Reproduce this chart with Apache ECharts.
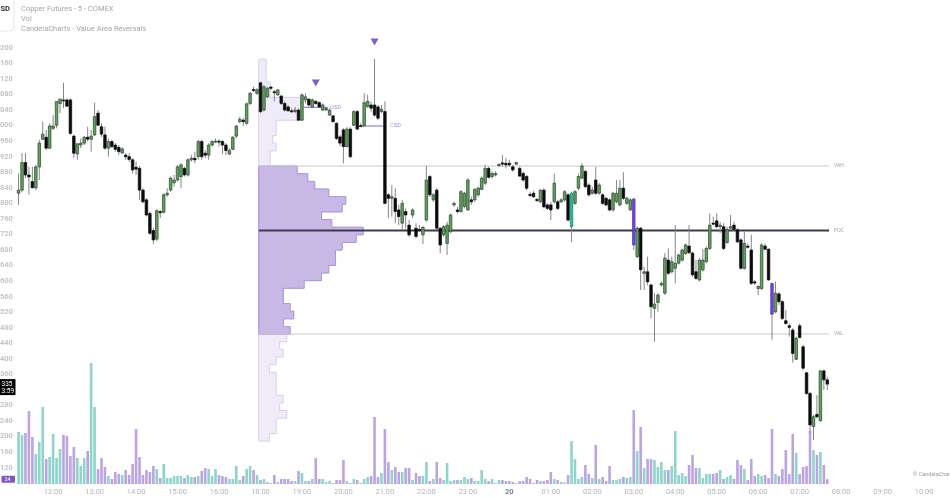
<!DOCTYPE html>
<html><head><meta charset="utf-8">
<script src="https://cdn.jsdelivr.net/npm/echarts@6/dist/echarts.min.js"></script>
<style>html,body{margin:0;padding:0;background:#fff}#c{width:950px;height:500px}</style>
</head><body><div id="c"></div>
<script>
// ---------- DATA ----------
const headerLines = ['Copper Futures - 5 - COMEX', 'Vol', 'CandelaCharts - Value Area Reversals'];
const currencyBadge = 'SD';
const countdown = '3:59';
const copyrightText = '\u00A9 CandelaCharts';
const firstBar = 4;           // category index of first candle (11:10)
const sessionStartBar = 74;   // 18:00
const lastBar = 238;          // 07:40
// [open, close, low, high]
const candleOHLC = [
[4.826,4.834,4.796,4.877],[4.834,4.905,4.829,4.929],[4.905,4.873,4.865,4.929],[4.873,4.868,4.822,4.894],[4.856,4.840,4.839,4.894],
[4.840,4.894,4.834,4.899],[4.894,4.955,4.860,4.963],[4.965,4.978,4.963,5.010],[4.970,4.942,4.937,4.989],[4.942,4.999,4.940,5.006],
[4.993,4.999,4.989,5.027],[5.001,5.062,4.993,5.062],[5.057,5.068,5.032,5.070],[5.066,5.064,5.045,5.110],[5.066,5.050,5.048,5.070],
[5.066,4.980,4.976,5.070],[4.973,4.929,4.916,4.976],[4.927,4.953,4.912,4.955],[4.950,4.955,4.942,4.967],[4.955,4.970,4.950,4.973],
[4.970,4.965,4.959,4.997],[4.965,4.973,4.933,4.989],[4.976,5.023,4.973,5.059],[5.032,5.001,4.999,5.040],[4.997,4.978,4.971,5.006],
[4.976,4.942,4.937,4.997],[4.942,4.959,4.920,4.967],[4.959,4.946,4.942,4.963],[4.950,4.939,4.933,4.955],[4.944,4.933,4.924,4.950],
[4.930,4.940,4.927,4.944],[4.924,4.920,4.912,4.929],[4.920,4.913,4.907,4.929],[4.912,4.886,4.877,4.916],[4.893,4.888,4.873,4.907],
[4.890,4.834,4.809,4.896],[4.834,4.804,4.800,4.839],[4.809,4.770,4.766,4.813],[4.774,4.723,4.719,4.779],[4.730,4.706,4.695,4.736],
[4.708,4.781,4.703,4.785],[4.779,4.776,4.762,4.783],[4.777,4.822,4.774,4.826],[4.822,4.826,4.817,4.839],[4.834,4.865,4.830,4.869],
[4.853,4.860,4.843,4.873],[4.860,4.894,4.856,4.899],[4.869,4.899,4.839,4.903],[4.890,4.873,4.869,4.894],[4.873,4.912,4.869,4.916],
[4.912,4.916,4.907,4.924],[4.916,4.912,4.903,4.933],[4.920,4.959,4.912,4.963],[4.959,4.920,4.912,4.963],[4.929,4.924,4.916,4.937],
[4.924,4.950,4.912,4.955],[4.950,4.959,4.946,4.963],[4.958,4.960,4.955,4.967],[4.960,4.958,4.946,4.965],[4.959,4.950,4.927,4.963],
[4.950,4.936,4.924,4.955],[4.927,4.936,4.924,4.942],[4.939,4.970,4.937,4.973],[4.973,4.999,4.967,5.001],[5.010,5.016,5.006,5.023],
[5.014,5.010,4.999,5.020],[5.006,5.056,5.001,5.059],[5.057,5.083,5.053,5.087],[5.093,5.090,5.087,5.100],[5.083,5.092,5.079,5.096],
[5.110,5.036,5.032,5.113],[5.040,5.100,5.036,5.104],[5.074,5.096,5.070,5.100],[5.099,5.096,5.092,5.102],[5.087,5.085,5.062,5.092],
[5.079,5.092,5.077,5.093],[5.076,5.057,5.053,5.079],[5.057,5.040,5.036,5.062],[5.048,5.038,5.036,5.053],[5.038,5.036,5.033,5.044],
[5.036,5.040,5.032,5.048],[5.040,5.014,5.012,5.044],[5.014,5.079,5.013,5.083],[5.066,5.074,5.057,5.083],[5.068,5.053,5.048,5.070],
[5.048,5.066,5.045,5.070],[5.062,5.057,5.053,5.066],[5.059,5.048,5.045,5.062],[5.040,5.053,5.038,5.057],[5.040,5.044,5.038,5.048],
[5.027,5.040,5.025,5.044],[5.025,5.010,5.008,5.027],[5.006,4.967,4.963,5.008],[4.971,4.955,4.947,4.976],[4.989,4.946,4.903,4.993],
[4.946,4.991,4.944,4.996],[4.991,4.920,4.916,4.996],[5.001,5.036,4.999,5.040],[5.036,4.991,4.989,5.040],[5.000,4.998,4.997,5.006],
[4.999,5.059,4.997,5.083],[5.049,5.062,5.045,5.079],[5.053,5.045,5.036,5.062],[5.053,5.027,5.023,5.171],[5.048,5.019,5.014,5.053],
[5.036,5.042,5.032,5.053],[5.036,4.800,4.798,5.062],[4.822,4.813,4.762,4.826],[4.813,4.817,4.766,4.847],[4.813,4.779,4.749,4.839],
[4.783,4.766,4.744,4.796],[4.749,4.800,4.732,4.809],[4.779,4.770,4.736,4.787],[4.744,4.719,4.714,4.757],[4.770,4.783,4.762,4.787],
[4.736,4.715,4.710,4.749],[4.733,4.730,4.726,4.744],[4.719,4.738,4.695,4.742],[4.757,4.860,4.753,4.896],[4.869,4.822,4.817,4.873],
[4.809,4.822,4.804,4.826],[4.834,4.736,4.732,4.839],[4.736,4.693,4.672,4.739],[4.719,4.740,4.714,4.744],[4.697,4.744,4.667,4.753],
[4.727,4.770,4.723,4.774],[4.796,4.800,4.791,4.804],[4.783,4.779,4.774,4.791],[4.779,4.830,4.776,4.834],[4.792,4.826,4.787,4.830],
[4.783,4.860,4.781,4.865],[4.809,4.804,4.796,4.817],[4.809,4.836,4.804,4.839],[4.822,4.839,4.817,4.843],[4.836,4.865,4.834,4.869],
[4.852,4.890,4.847,4.899],[4.890,4.867,4.864,4.894],[4.869,4.877,4.864,4.882],[4.873,4.877,4.869,4.882],[4.897,4.900,4.894,4.903],
[4.904,4.901,4.894,4.924],[4.903,4.899,4.890,4.916],[4.903,4.899,4.894,4.912],[4.894,4.886,4.881,4.899],[4.901,4.905,4.899,4.907],
[4.890,4.870,4.869,4.894],[4.877,4.860,4.856,4.882],[4.869,4.839,4.834,4.873],[4.823,4.820,4.817,4.830],[4.826,4.817,4.814,4.832],
[4.810,4.807,4.804,4.813],[4.804,4.834,4.800,4.836],[4.834,4.791,4.787,4.839],[4.796,4.787,4.783,4.800],[4.796,4.783,4.757,4.804],
[4.804,4.852,4.800,4.877],[4.804,4.787,4.783,4.809],[4.804,4.809,4.800,4.813],[4.809,4.830,4.804,4.834],[4.822,4.757,4.753,4.826],
[4.740,4.826,4.701,4.830],[4.800,4.830,4.796,4.834],[4.839,4.869,4.834,4.877],[4.865,4.896,4.862,4.903],[4.882,4.843,4.839,4.886],
[4.847,4.822,4.817,4.852],[4.826,4.834,4.822,4.843],[4.860,4.826,4.822,4.894],[4.826,4.847,4.822,4.852],[4.822,4.800,4.796,4.826],
[4.813,4.796,4.792,4.817],[4.809,4.783,4.779,4.813],[4.783,4.826,4.779,4.830],[4.804,4.826,4.800,4.860],[4.796,4.839,4.792,4.860],
[4.839,4.813,4.809,4.880],[4.800,4.813,4.796,4.817],[4.783,4.809,4.781,4.813],[4.811,4.693,4.680,4.814],[4.663,4.736,4.659,4.740],
[4.736,4.629,4.577,4.740],[4.620,4.624,4.577,4.637],[4.624,4.598,4.590,4.663],[4.590,4.534,4.504,4.594],[4.530,4.541,4.444,4.569],
[4.545,4.564,4.521,4.569],[4.590,4.594,4.586,4.599],[4.569,4.659,4.564,4.672],[4.654,4.620,4.616,4.684],[4.624,4.650,4.620,4.663],
[4.633,4.646,4.594,4.744],[4.646,4.667,4.642,4.671],[4.654,4.680,4.650,4.684],[4.671,4.693,4.667,4.697],[4.690,4.673,4.670,4.744],
[4.672,4.616,4.611,4.676],[4.624,4.607,4.603,4.654],[4.603,4.654,4.599,4.659],[4.629,4.654,4.624,4.682],[4.650,4.684,4.646,4.689],
[4.684,4.744,4.680,4.774],[4.749,4.747,4.744,4.766],[4.755,4.740,4.736,4.774],[4.740,4.744,4.724,4.752],[4.740,4.684,4.680,4.749],
[4.699,4.733,4.697,4.740],[4.736,4.740,4.732,4.770],[4.744,4.733,4.730,4.753],[4.732,4.701,4.697,4.736],[4.706,4.633,4.630,4.710],
[4.633,4.697,4.629,4.727],[4.690,4.687,4.684,4.697],[4.680,4.594,4.590,4.719],[4.598,4.595,4.590,4.603],[4.581,4.586,4.564,4.590],
[4.581,4.693,4.577,4.697],[4.690,4.682,4.680,4.697],[4.682,4.603,4.601,4.684],[4.594,4.515,4.449,4.596],[4.521,4.569,4.517,4.599],
[4.567,4.547,4.538,4.572],[4.547,4.504,4.500,4.551],[4.498,4.491,4.487,4.526],[4.485,4.481,4.457,4.491],[4.474,4.414,4.390,4.479],
[4.399,4.453,4.397,4.457],[4.485,4.455,4.453,4.491],[4.431,4.376,4.371,4.436],[4.364,4.311,4.307,4.367],[4.311,4.230,4.209,4.315],
[4.226,4.251,4.191,4.256],[4.257,4.251,4.247,4.307],[4.241,4.369,4.238,4.371],[4.369,4.346,4.320,4.373],[4.346,4.335,4.320,4.354]
];
const volumes = [
260,245,255,365,235,150,210,385,125,135,
250,130,175,245,240,140,185,130,90,130,
165,605,385,75,130,85,40,25,60,50,
45,70,45,100,275,135,45,70,60,90,
75,30,100,30,30,40,40,40,30,45,
35,35,40,65,80,75,40,75,45,40,
35,25,25,90,20,40,75,90,70,45,
20,25,10,5,45,10,25,25,25,15,
15,65,55,15,15,25,130,25,25,10,
15,5,20,20,120,15,5,25,20,5,
25,35,40,335,35,55,275,110,70,85,
60,60,80,80,20,55,40,40,110,15,
25,110,30,20,105,15,20,20,20,35,
25,30,15,15,70,25,15,25,5,20,
20,15,15,10,5,15,15,35,25,5,
20,15,15,20,60,25,20,10,8,45,
215,125,25,35,95,50,30,195,25,35,
15,90,20,20,25,35,30,35,370,165,
285,80,125,125,120,85,110,70,70,90,
265,45,55,40,95,145,80,80,30,50,
50,50,55,70,25,35,45,25,120,95,
75,20,125,40,50,40,45,30,275,50,
40,75,170,50,250,155,50,85,90,265,
170,145,160,95,24
];
// value-area reversal signals
const bullSignalBars = [164];
const bearSignalBars = [182, 222];
const triangleBars = [90, 107];
// CISD levels
const cisdStart = [87, 104];
const cisdEnd = [93, 109];
const cisdPrice = [5.047, 4.999];
// session value area levels
const levelNames = ['VAH', 'POC', 'VAL'];
const levelPrices = [4.896, 4.730, 4.464];
// session volume profile (rows top -> bottom)
const profileTop = 5.171;
const profileRow = 0.01965;
const profileVolumes = [74,74,74,114,114,440,440,440,174,174,140,174,114,114,384,490,560,700,870,834,
627,730,1044,974,834,767,767,700,627,454,247,247,314,350,247,314,280,210,244,174,
107,174,174,174,244,210,280,174,174,107];
const valueAreaFirstRow = 14, valueAreaLastRow = 35;

// ---------- CATEGORIES (5-minute slots, 17:00 hour closed) ----------
const categories = [];
(function(){
  const pad = n => (n < 10 ? '0' : '') + n;
  let t = 10 * 60 + 50;
  while (categories.length < 274) {
    const hh = Math.floor(t / 60) % 24, mm = t % 60;
    if (hh !== 17) categories.push(pad(hh) + ':' + pad(mm));
    t += 5;
  }
})();

// ---------- BUILD ----------
const C_UP = '#5fa35f', C_UP_B = '#2c402c', C_DN = '#0c0c0c';
const C_BULL = '#22b89b', C_BEAR = '#7043de';
const V_UP = '#90d4c9', V_DN = '#baa4e3';
const FONT = 'Roboto, "Noto Sans", sans-serif';

const candleData = candleOHLC.map((d, k) => {
  const idx = firstBar + k;
  const sig = bullSignalBars.includes(idx) ? 1 : (bearSignalBars.includes(idx) ? 2 : 0);
  return [idx, d[0], d[1], d[2], d[3], sig];
});
const volData = categories.map(() => '-');
volumes.forEach((v, k) => {
  const d = candleOHLC[k];
  volData[firstBar + k] = { value: v, itemStyle: { color: d[1] >= d[0] ? V_UP : V_DN } };
});
const triData = triangleBars.map(i => [i, candleOHLC[i - firstBar][3]]);

const gridPrice = { left: 3, right: 0, top: 1.2, bottom: 1.2, outerBoundsMode: 'none' };
const gridVol = { left: 3, right: 0, top: 0, bottom: 16, outerBoundsMode: 'none' };
const profLeft = 3 + sessionStartBar * (947 / 274);
const gridProf = { left: profLeft, width: 400, top: 1.2, bottom: 1.2, outerBoundsMode: 'none' };

const option = {
  animation: false,
  backgroundColor: '#ffffff',
  textStyle: { fontFamily: FONT },
  grid: [gridPrice, gridVol, gridProf],
  xAxis: [
    { type: 'category', gridIndex: 0, data: categories, show: false, boundaryGap: true },
    { type: 'category', gridIndex: 1, data: categories, boundaryGap: true,
      axisLine: { show: false }, axisTick: { show: false }, splitLine: { show: false },
      axisLabel: {
        margin: 4, fontSize: 7.5, color: '#b2b5be', fontFamily: FONT,
        interval: (idx, val) => idx >= 10 && val.slice(3) === '00',
        formatter: val => val === '00:00' ? '{b|20}' : val,
        rich: { b: { fontWeight: 'bold', color: '#7c7f88', fontSize: 7.5, fontFamily: FONT } }
      } },
    { type: 'value', gridIndex: 2, min: 0, max: 4000, show: false }
  ],
  yAxis: [
    { type: 'value', gridIndex: 0, min: 4.04, max: 5.32, interval: 0.04, position: 'left',
      axisLine: { show: false }, axisTick: { show: false }, splitLine: { show: false },
      axisLabel: { inside: true, margin: -3, fontSize: 7.5, fontWeight: 'bold', color: '#c3c5cc', fontFamily: FONT,
        formatter: v => {
          if (v < 4.119 || v > 5.201) return '';
          const t = Math.round(v * 1000) % 1000;
          return String(t).padStart(3, '0');
        } } },
    { type: 'value', gridIndex: 1, min: 0, max: 2420, show: false },
    { type: 'value', gridIndex: 2, min: 4.04, max: 5.32, show: false }
  ],
  series: [
    { // volume profile
      type: 'custom', xAxisIndex: 2, yAxisIndex: 2, z: 1, silent: true,
      data: [[0, profileTop]],
      renderItem: (params, api) => {
        const pts = (r0, r1) => {
          const arr = [api.coord([0, profileTop - r0 * profileRow])];
          for (let r = r0; r <= r1; r++) {
            arr.push(api.coord([profileVolumes[r], profileTop - r * profileRow]));
            arr.push(api.coord([profileVolumes[r], profileTop - (r + 1) * profileRow]));
          }
          arr.push(api.coord([0, profileTop - (r1 + 1) * profileRow]));
          return arr;
        };
        return { type: 'group', children: [
          { type: 'polygon', shape: { points: pts(0, profileVolumes.length - 1) }, style: { fill: '#f0ebf9', stroke: '#d8cdef', lineWidth: 1 } },
          { type: 'polygon', shape: { points: pts(valueAreaFirstRow, valueAreaLastRow) }, style: { fill: '#c7b8e6', stroke: '#ae95dd', lineWidth: 1 } }
        ] };
      }
    },
    { // VAH / POC / VAL + CISD lines
      type: 'custom', xAxisIndex: 0, yAxisIndex: 0, z: 2, silent: true,
      data: [[sessionStartBar, levelPrices[1]]],
      renderItem: (params, api) => {
        const half = api.size([1, 0])[0] / 2;
        const ch = [];
        levelPrices.forEach((p, k) => {
          const a = api.coord([sessionStartBar, p]), b = api.coord([lastBar, p]);
          ch.push({ type: 'line', shape: { x1: a[0] - half, y1: a[1], x2: b[0] + half, y2: b[1] },
            style: { stroke: k === 1 ? '#3b3b4d' : '#c9c9cc', lineWidth: k === 1 ? 2 : 1 } });
          ch.push({ type: 'text', style: { text: levelNames[k], x: b[0] + half + 5, y: b[1], fill: '#a0a0a6',
            fontSize: 5, fontFamily: FONT, verticalAlign: 'middle', align: 'left' } });
        });
        cisdPrice.forEach((p, k) => {
          const a = api.coord([cisdStart[k], p]), b = api.coord([cisdEnd[k], p]);
          ch.push({ type: 'line', shape: { x1: a[0] - half, y1: a[1], x2: b[0] + half, y2: b[1] },
            style: { stroke: '#8a63d2', lineWidth: 1 } });
          ch.push({ type: 'text', style: { text: 'CISD', x: b[0] + half + 2 + k * 5, y: b[1], fill: '#a48bd8',
            fontSize: 5, fontFamily: FONT, verticalAlign: 'middle', align: 'left' } });
        });
        return { type: 'group', children: ch };
      }
    },
    { // volume bars
      type: 'bar', xAxisIndex: 1, yAxisIndex: 1, z: 2, barWidth: 2.6, silent: true,
      data: volData
    },
    { // candles
      type: 'custom', xAxisIndex: 0, yAxisIndex: 0, z: 3, silent: true,
      encode: { x: 0, y: [1, 2, 3, 4] },
      data: candleData,
      renderItem: (params, api) => {
        const i = api.value(0), o = api.value(1), c = api.value(2), l = api.value(3), h = api.value(4), sig = api.value(5);
        const po = api.coord([i, o]), pc = api.coord([i, c]);
        const yl = api.coord([i, l])[1], yh = api.coord([i, h])[1];
        const x = po[0];
        const bw = api.size([1, 0])[0] * 0.74;
        const up = c >= o;
        let fill = up ? C_UP : C_DN, stroke = up ? C_UP_B : C_DN;
        if (sig === 1) { fill = C_BULL; stroke = '#178a73'; }
        if (sig === 2) { fill = C_BEAR; stroke = '#5530b5'; }
        const top = Math.min(po[1], pc[1]);
        const hh = Math.max(Math.abs(po[1] - pc[1]), 1);
        return { type: 'group', children: [
          { type: 'line', shape: { x1: x, y1: yh, x2: x, y2: yl }, style: { stroke: '#868686', lineWidth: 1 } },
          { type: 'rect', shape: { x: x - bw / 2, y: top, width: bw, height: hh }, style: { fill: fill, stroke: stroke, lineWidth: 0.7 } }
        ] };
      }
    },
    { // reversal triangles
      type: 'scatter', xAxisIndex: 0, yAxisIndex: 0, z: 4, silent: true,
      symbol: 'triangle', symbolRotate: 180, symbolSize: [8, 7], symbolOffset: [0, -17],
      itemStyle: { color: '#6236c0' },
      data: triData
    }
  ]
};

const chart = echarts.init(document.getElementById('c'), null, { renderer: 'canvas', width: 950, height: 500 });
chart.setOption(option);

const lastOHLC = candleOHLC[candleOHLC.length - 1];
const lastClose = lastOHLC[1];
const lastVol = volumes[volumes.length - 1];
const yPrice = chart.convertToPixel({ yAxisIndex: 0 }, lastClose);
const yVol = chart.convertToPixel({ yAxisIndex: 1 }, lastVol);
const priceTxt = String(Math.round(lastClose * 1000) % 1000).padStart(3, '0');

chart.setOption({
  graphic: [
    { type: 'rect', z: 100, shape: { x: -6, y: -6, width: 20, height: 37, r: 4 }, style: { fill: '#ffffff', stroke: '#e3e5eb', lineWidth: 1 } },
    { type: 'text', z: 101, style: { text: currencyBadge, x: 0.5, y: 9.5, fill: '#2a2e39', font: 'bold 7.5px ' + FONT, verticalAlign: 'middle' } },
    { type: 'text', z: 101, style: { text: headerLines[0], x: 21, y: 9.5, fill: '#a3a6af', font: '7.5px ' + FONT, verticalAlign: 'middle' } },
    { type: 'text', z: 101, style: { text: headerLines[1], x: 21, y: 19.3, fill: '#a3a6af', font: '7.5px ' + FONT, verticalAlign: 'middle' } },
    { type: 'text', z: 101, style: { text: headerLines[2], x: 21, y: 29, fill: '#a3a6af', font: '7.5px ' + FONT, verticalAlign: 'middle' } },
    { type: 'rect', z: 100, shape: { x: 0, y: yPrice - 5, width: 15.5, height: 16 }, style: { fill: '#000000' } },
    { type: 'text', z: 101, style: { text: priceTxt, x: 1.5, y: yPrice, fill: '#ffffff', font: '6.5px ' + FONT, verticalAlign: 'middle' } },
    { type: 'text', z: 101, style: { text: countdown, x: 1.5, y: yPrice + 7, fill: '#ffffff', font: '6.5px ' + FONT, verticalAlign: 'middle' } },
    { type: 'rect', z: 100, shape: { x: 1.5, y: yVol - 3.5, width: 13.5, height: 7, r: 1 }, style: { fill: '#7e57c2' } },
    { type: 'text', z: 101, style: { text: String(lastVol), x: 4.5, y: yVol, fill: '#ffffff', font: '5.5px ' + FONT, verticalAlign: 'middle' } },
    { type: 'text', z: 101, style: { text: copyrightText, x: 913, y: 475, fill: '#9a9ca3', font: '5.5px ' + FONT, verticalAlign: 'middle' } }
  ]
});
</script>
</body></html>
